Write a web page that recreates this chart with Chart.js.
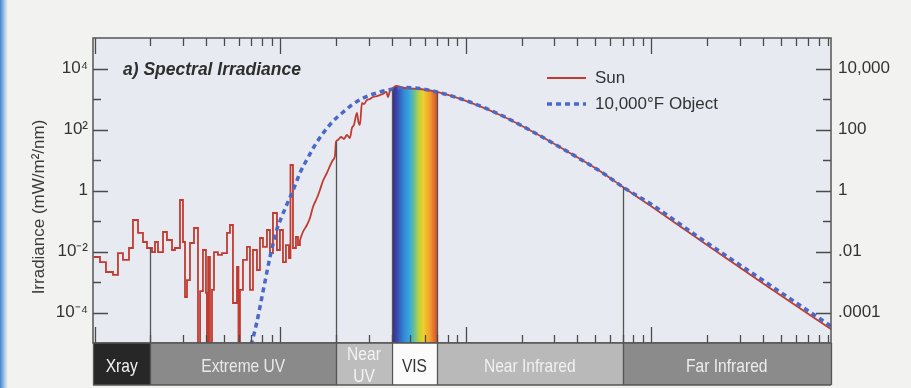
<!DOCTYPE html>
<html>
<head>
<meta charset="utf-8">
<script src="https://cdn.jsdelivr.net/npm/chart.js@4.4.1/dist/chart.umd.min.js"></script>
<style>
  html, body { margin: 0; padding: 0; background: #f2f2f0; }
  #wrap { position: relative; width: 911px; height: 388px; overflow: hidden; }
  #edge { position: absolute; left: 0; top: 0; width: 8px; height: 388px;
          background: linear-gradient(to right, #3f86cc, rgba(110,165,220,0.55) 55%, rgba(242,242,240,0)); }
  canvas { display: block; }
</style>
</head>
<body>
<div id="wrap">
  <canvas id="chart" width="911" height="388"></canvas>
  <div id="edge"></div>
</div>
<script>
// Solar spectrum, binned part (X-ray / EUV), wavelength in nm, irradiance in mW/m²/nm
const sunEuvWavelength = [9.9, 10.69, 11.51, 12.56, 13.36, 14.21, 15.32, 16.09, 17.13, 18.22, 19.15, 20.38,
  21.15, 21.95, 23.36, 24.54, 26.12, 27.1, 28.84, 29.93, 30.69, 31.46, 32.65, 34.31, 36.06, 37.0, 38.36,
  39.81, 40.3, 40.9, 41.84, 42.9, 43.97, 46.21, 48.57, 51.68, 53.62, 55.66, 58.5, 59.59, 60.71, 63.01,
  66.22, 68.73, 71.34, 74.96, 77.8, 80.75, 84.86, 88.08, 91.42, 96.07, 99.7, 103.5, 107.4, 111.5, 113.6,
  117.2, 121.6, 124.7, 127.8];
const sunEuvIrradiance = [6.6e-3, 4.5e-3, 2.13e-3, 1.7e-3, 8.9e-3, 5.3e-3, 0.013, 0.108, 0.0405, 0.0205, 0.013, 9.6e-3,
  0.0205, 9.6e-3, 0.0436, 0.0238, 0.0112, 0.013, 0.489, 0.0205, 3.2e-4, 1.16e-3, 0.019, 0.0589, 1e-6, 5e-4, 0.0112,
  4.4e-4, 1e-6, 6.6e-3, 1e-6, 5.5e-4, 9.6e-3, 7.7e-3, 8.9e-3, 0.0405, 0.074, 2.05e-4, 3.1e-3, 1e-6, 5.5e-4, 5.3e-3,
  0.0141, 5.5e-4, 0.0112, 2.47e-3, 0.0277, 0.0141, 0.0507, 8.9e-3, 0.183, 0.0112, 0.0507, 4.5e-3, 0.0163, 6.1e-3, 6.86,
  0.013, 0.0299, 0.0163, 0.0238];

// Solar spectrum, continuous part (UV to far infrared)
const sunWavelength = [127.8, 132.6, 139.4, 144.7, 150.2, 157.8, 163.8, 170.0, 178.6, 185.4, 192.4, 197.3, 199.8,
  204.8, 212.6, 220.6, 228.9, 237.6, 243.6, 249.7, 259.2, 264.1, 269.0, 275.8, 282.7, 293.4, 304.5, 316.1, 332.2,
  344.7, 357.8, 373.8, 380.7, 390.3, 405.2, 420.5, 470, 566, 699, 1053, 1586, 2417, 3641, 5483, 7028, 9947,
  18270, 41950, 92800];
const sunIrradiance = [0.0238, 0.0436, 0.074, 0.125, 0.288, 0.568, 1.04, 2.05, 3.75, 6.36, 10, 13.5, 38.9,
  45.3, 56.8, 48.9, 66.1, 52.6, 112, 141, 348, 176, 141, 740, 686, 927, 1000, 1160, 1250,
  1350, 1460, 1700, 1160, 1830, 2290, 2670, 2296, 2128, 1700, 780, 272, 71.2, 17.0, 3.75, 1.3, 0.31,
  0.0238, 7.4e-4, 2.9e-5];

// Blackbody curve of a 10,000°F object
const objectWavelength = [69.6, 71.34, 74.7, 77.8, 81.1, 84.6, 88.1, 91.8, 95.7, 101.8, 108.3, 117.6, 127.8,
  138.9, 150.8, 170.6, 193.1, 218.7, 247.6, 280.3, 317.3, 359.2, 406.7, 470, 566, 699, 1053, 1586, 2417,
  3641, 5483, 7028, 9947, 18270, 41950, 92800];
const objectIrradiance = [8.6e-6, 1.46e-5, 4.53e-5, 1.51e-4, 5.47e-4, 1.97e-3, 6.6e-3, 0.019, 0.0507, 0.135, 0.335, 1.04, 3.75,
  10, 24.7, 76.8, 190, 375, 686, 1080, 1460, 1830, 2130, 2380, 2210, 1700, 798, 277, 71.2,
  17.0, 3.75, 1.3, 0.361, 0.0277, 9.27e-4, 3.6e-5];

// Spectral regions: boundaries (nm) and names
const regionEdges = [20, 200, 400, 700, 7000];
const regionNames = ['Xray', 'Extreme UV', 'Near\nUV', 'VIS', 'Near Infrared', 'Far Infrared'];

// Axis ranges and tick labels
const wavelengthRange = [9.8, 93000];
const irradianceRange = [1e-5, 1e5];
const yTickValues = [1e-4, 1e-2, 1, 1e2, 1e4];
const yLeftLabels = ['10\u207B\u2074', '10\u207B\u00B2', '1', '10\u00B2', '10\u2074'];
const yRightLabels = ['.0001', '.01', '1', '100', '10,000'];

const chartTitle = 'a) Spectral Irradiance';
const yTitle = 'Irradiance (mW/m\u00B2/nm)';

// ---- helpers ----
const toPoints = (xs, ys) => xs.map((x, i) => ({ x, y: ys[i] }));

function sunAt(w) {
  if (w < sunWavelength[0]) {
    let v = sunEuvIrradiance[0];
    for (let i = 0; i < sunEuvWavelength.length; i++) if (sunEuvWavelength[i] <= w) v = sunEuvIrradiance[i];
    return v;
  }
  for (let i = 0; i < sunWavelength.length - 1; i++) {
    const a = sunWavelength[i], b = sunWavelength[i + 1];
    if (w >= a && w <= b) {
      const t = (Math.log(w) - Math.log(a)) / (Math.log(b) - Math.log(a));
      return Math.exp(Math.log(sunIrradiance[i]) * (1 - t) + Math.log(sunIrradiance[i + 1]) * t);
    }
  }
  return sunIrradiance[sunIrradiance.length - 1];
}

// visible band, filled under the solar curve
const visStart = regionEdges[2], visEnd = regionEdges[3];
const visPoints = [{ x: visStart, y: sunAt(visStart) }]
  .concat(toPoints(sunWavelength, sunIrradiance).filter(p => p.x > visStart && p.x < visEnd))
  .concat([{ x: visEnd, y: sunAt(visEnd) }]);

const FONT = "'Liberation Sans', Arial, Helvetica, sans-serif";
Chart.defaults.font.family = FONT;
Chart.defaults.color = '#333';

const spectrumStops = [[0, '#39298a'], [0.1, '#3c43a8'], [0.25, '#2f84d4'], [0.4, '#3aaadb'],
  [0.5, '#6fc08c'], [0.6, '#b9d23e'], [0.7, '#f1cf2b'], [0.85, '#f29a2e'], [1, '#d8502a']];

const bandStyle = {
  height: 42,
  fill: ['#272727', '#8a8a8a', '#bdbdbd', '#fbfbfb', '#b9b9b9', '#8b8b8b'],
  text: ['#f2f2f2', '#e9e9e9', '#f3f3f3', '#333333', '#f1f1f1', '#ededed']
};

const figurePlugin = {
  id: 'figure',
  beforeDraw(chart) {
    const { ctx, chartArea: a } = chart;
    ctx.save();
    ctx.fillStyle = '#e7ebf1';
    ctx.fillRect(a.left, a.top, a.right - a.left, a.bottom - a.top);
    ctx.restore();
  },
  afterDatasetsDraw(chart) {
    const { ctx, chartArea: a, scales: { x, y } } = chart;
    ctx.save();

    // region boundary lines rising to the solar curve
    ctx.strokeStyle = '#555';
    ctx.lineWidth = 1.3;
    ctx.beginPath();
    regionEdges.forEach(w => {
      const px = Math.round(x.getPixelForValue(w)) + 0.5;
      ctx.moveTo(px, a.bottom);
      ctx.lineTo(px, Math.max(a.top, y.getPixelForValue(sunAt(w))));
    });
    ctx.stroke();

    // inward tick marks
    ctx.strokeStyle = '#4a4a4a';
    ctx.lineWidth = 1.3;
    ctx.beginPath();
    const e0 = Math.floor(Math.log10(wavelengthRange[0])), e1 = Math.ceil(Math.log10(wavelengthRange[1]));
    for (let e = e0; e <= e1; e++) {
      for (let m = 1; m <= 9; m++) {
        const w = m * Math.pow(10, e);
        if (w <= wavelengthRange[0] || w >= wavelengthRange[1]) continue;
        const px = Math.round(x.getPixelForValue(w)) + 0.5;
        const len = m === 1 ? 16 : 8;
        ctx.moveTo(px, a.top); ctx.lineTo(px, a.top + len);
        ctx.moveTo(px, a.bottom); ctx.lineTo(px, a.bottom - len);
      }
    }
    for (let e = -4; e <= 4; e++) {
      const py = Math.round(y.getPixelForValue(Math.pow(10, e))) + 0.5;
      const len = e % 2 === 0 ? 15 : 8;
      ctx.moveTo(a.left, py); ctx.lineTo(a.left + len, py);
      ctx.moveTo(a.right, py); ctx.lineTo(a.right - len, py);
    }
    ctx.stroke();

    // frame
    ctx.strokeStyle = '#555';
    ctx.lineWidth = 1.5;
    ctx.strokeRect(a.left, a.top, a.right - a.left, a.bottom - a.top);

    // region band under the plot
    const edges = [a.left].concat(regionEdges.map(w => x.getPixelForValue(w)), [a.right]);
    const top = a.bottom, h = bandStyle.height;
    for (let i = 0; i < regionNames.length; i++) {
      ctx.fillStyle = bandStyle.fill[i];
      ctx.fillRect(edges[i], top, edges[i + 1] - edges[i], h);
    }
    ctx.strokeStyle = '#555';
    ctx.lineWidth = 1.3;
    ctx.beginPath();
    edges.forEach(px => { ctx.moveTo(Math.round(px) + 0.5, top); ctx.lineTo(Math.round(px) + 0.5, top + h); });
    ctx.moveTo(a.left, top + h); ctx.lineTo(a.right, top + h);
    ctx.moveTo(a.left, top); ctx.lineTo(a.right, top);
    ctx.stroke();

    ctx.save();
    ctx.beginPath();
    ctx.rect(a.left, top + 1, a.right - a.left, h - 2);
    ctx.clip();
    ctx.font = '19px ' + FONT;
    ctx.textAlign = 'center';
    ctx.textBaseline = 'middle';
    regionNames.forEach((name, i) => {
      const cx = (edges[i] + edges[i + 1]) / 2;
      const lines = name.split('\n');
      ctx.fillStyle = bandStyle.text[i];
      lines.forEach((ln, k) => {
        const cy = lines.length === 1 ? top + 24 : top + 12 + k * 22;
        ctx.save();
        ctx.translate(cx, cy);
        ctx.scale(0.82, 1);
        ctx.fillText(ln, 0, 0);
        ctx.restore();
      });
    });
    ctx.restore();

    // panel title
    ctx.fillStyle = '#2e2e2e';
    ctx.font = 'italic bold 17.5px ' + FONT;
    ctx.textAlign = 'left';
    ctx.textBaseline = 'middle';
    ctx.fillText(chartTitle, 123, 70);

    // legend
    ctx.font = '17px ' + FONT;
    let ly = 78;
    chart.data.datasets.filter(d => d.inLegend).forEach(d => {
      ctx.save();
      ctx.strokeStyle = d.borderColor;
      ctx.lineWidth = d.borderWidth;
      ctx.setLineDash(d.borderDash || []);
      ctx.beginPath();
      ctx.moveTo(547, ly); ctx.lineTo(586, ly);
      ctx.stroke();
      ctx.restore();
      ctx.fillStyle = '#333';
      ctx.fillText(d.label, 595, ly);
      ly += 26;
    });

    // y axis title
    ctx.save();
    ctx.translate(39, 207);
    ctx.rotate(-Math.PI / 2);
    ctx.font = '17px ' + FONT;
    ctx.textAlign = 'center';
    ctx.fillStyle = '#3a3a3a';
    ctx.fillText(yTitle, 0, 0);
    ctx.restore();

    ctx.restore();
  }
};

function fixedTicks(labels) {
  return {
    afterBuildTicks: s => { s.ticks = yTickValues.map(v => ({ value: v })); },
    ticks: {
      autoSkip: false,
      font: { size: 17 },
      color: '#333',
      callback: (v, i) => labels[i]
    }
  };
}

new Chart(document.getElementById('chart'), {
  type: 'line',
  data: {
    datasets: [
      {
        label: 'Sun',
        inLegend: true,
        data: toPoints(sunEuvWavelength, sunEuvIrradiance),
        stepped: true,
        borderColor: '#c23b30',
        borderWidth: 1.8,
        pointRadius: 0,
        order: 1
      },
      {
        label: 'Sun',
        data: toPoints(sunWavelength, sunIrradiance),
        cubicInterpolationMode: 'monotone',
        borderColor: '#c23b30',
        borderWidth: 1.8,
        pointRadius: 0,
        order: 1
      },
      {
        label: '10,000\u00B0F Object',
        inLegend: true,
        data: toPoints(objectWavelength, objectIrradiance),
        cubicInterpolationMode: 'monotone',
        borderColor: '#4a68c8',
        borderWidth: 3.5,
        borderDash: [5, 4],
        pointRadius: 0,
        order: 0
      },
      {
        label: 'VIS',
        data: visPoints,
        borderWidth: 0,
        pointRadius: 0,
        cubicInterpolationMode: 'monotone',
        fill: 'start',
        order: 5,
        backgroundColor: ctx => {
          const c = ctx.chart;
          if (!c.chartArea) return 'rgba(0,0,0,0)';
          const x0 = c.scales.x.getPixelForValue(visStart);
          const x1 = c.scales.x.getPixelForValue(visEnd);
          const g = c.ctx.createLinearGradient(x0, 0, x1, 0);
          spectrumStops.forEach(([o, col]) => g.addColorStop(o, col));
          return g;
        }
      }
    ]
  },
  options: {
    responsive: false,
    devicePixelRatio: 1,
    animation: false,
    layout: { padding: { top: 38, bottom: 45, left: 0, right: 0 } },
    plugins: { legend: { display: false }, tooltip: { enabled: false } },
    scales: {
      x: {
        type: 'logarithmic',
        min: wavelengthRange[0],
        max: wavelengthRange[1],
        display: false
      },
      y: Object.assign({
        type: 'logarithmic',
        position: 'left',
        min: irradianceRange[0],
        max: irradianceRange[1],
        grid: { display: false, drawTicks: false },
        border: { display: false },
        afterFit: s => { s.width = 93; }
      }, (() => { const t = fixedTicks(yLeftLabels); t.ticks.padding = 5; return t; })()),
      y2: Object.assign({
        type: 'logarithmic',
        position: 'right',
        min: irradianceRange[0],
        max: irradianceRange[1],
        grid: { display: false, drawTicks: false },
        border: { display: false },
        afterFit: s => { s.width = 80; }
      }, (() => { const t = fixedTicks(yRightLabels); t.ticks.padding = 7; return t; })())
    }
  },
  plugins: [figurePlugin]
});
</script>
</body>
</html>
